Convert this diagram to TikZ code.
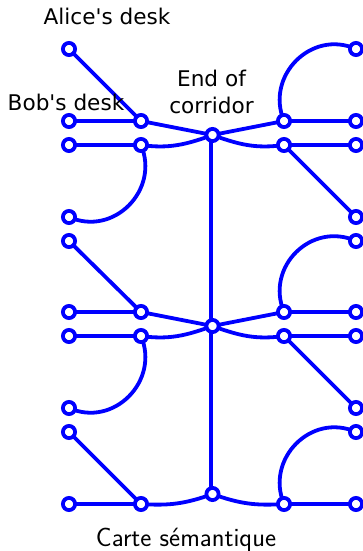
\documentclass[tikz,border=0pt]{standalone}
\usepackage{fontspec}
\newfontfamily\labfont{DejaVu Sans}
\newfontfamily\lmsans{Latin Modern Sans}
\begin{document}
\begin{tikzpicture}[x=1pt,y=-1pt,
  pt/.style={circle,draw=blue,fill=white,line width=3.8pt,minimum size=12.2pt,inner sep=0pt},
  lnk/.style={draw=blue,line width=3.8pt},
  lab/.style={text=black,font=\labfont\fontsize{21.6}{26.5}\selectfont,align=center,inner sep=0pt}]
\useasboundingbox (0,0) rectangle (363,551);
\foreach \n/\x/\y in {
 a1/69/49,a2/69/121,a3/69/145,a4/69/217,a5/69/241,a6/69/312,a7/69/336,a8/69/408,a9/69/432,a10/69/504,
 b2/141/121,b3/141/145,b6/141/312,b7/141/336,b10/141/504,
 c1/212.5/135,c2/212.5/326,c3/212.5/494,
 d2/284/121,d3/284/145,d6/284/312,d7/284/336,d10/284/504,
 e1/356/49,e2/356/121,e3/356/145,e4/356/217,e5/356/241,e6/356/312,e7/356/336,e8/356/408,e9/356/432,e10/356/504}
 {\coordinate (\n) at (\x,\y);}
\path[lnk]
 (a1)--(b2) (a2)--(b2) (a3)--(b3) (b2)--(c1) (d2)--(c1) (d2)--(e2) (d3)--(e3) (d3)--(e4)
 (a5)--(b6) (a6)--(b6) (a7)--(b7) (b6)--(c2) (d6)--(c2) (d6)--(e6) (d7)--(e7) (d7)--(e8)
 (a9)--(b10) (a10)--(b10) (d10)--(e10)
 ([xshift=-1.5pt]c1)--([xshift=-1.5pt]c3)
 (b3) to[out=-8,in=200] (c1) (c1) to[out=-20,in=188] (d3)
 (b7) to[out=-8,in=200] (c2) (c2) to[out=-20,in=188] (d7)
 (b10) to[out=-4,in=200] (c3) (c3) to[out=-20,in=184] (d10);
\foreach \s/\t in {b3/a4,b7/a8}
 \path[lnk] (\s) .. controls +(19,45) and +(44.6,20) .. (\t);
\foreach \s/\t in {d2/e1,d6/e5,d10/e9}
 \path[lnk] (\s) .. controls +(-19,-45) and +(-44.6,-20) .. (\t);
\foreach \n in {a1,a2,a3,a4,a5,a6,a7,a8,a9,a10,b2,b3,b6,b7,b10,c1,c2,c3,d2,d3,d6,d7,d10,e1,e2,e3,e4,e5,e6,e7,e8,e9,e10}
 \node[pt] at (\n) {};
\node[lab] (alice) at (107,16) {Alice's desk};
\node[lab] (bob) at (66,102) {Bob's desk};
\node[lab] (end) at (211.5,92) {End of\\corridor};
\node[lab,font=\lmsans\fontsize{26.4}{30}\selectfont] (carte) at (186,540) {Carte sémantique};
\end{tikzpicture}
\end{document}
